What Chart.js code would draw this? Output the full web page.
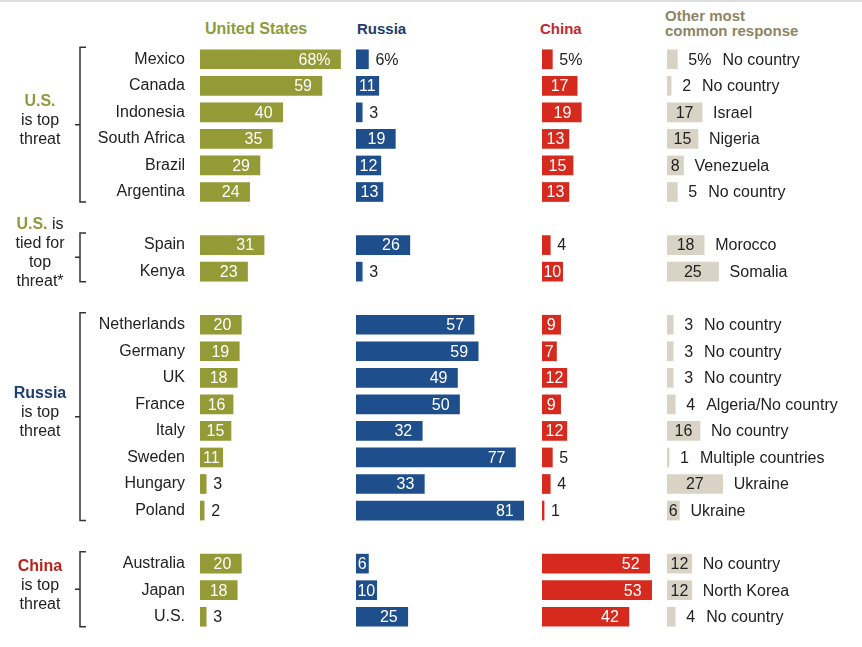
<!DOCTYPE html>
<html>
<head>
<meta charset="utf-8">
<script src="https://cdn.jsdelivr.net/npm/chart.js@4"></script>
<style>
  body { margin:0; background:#fff; width:862px; height:647px; overflow:hidden; position:relative; font-family:'Liberation Sans', Arial, sans-serif; }
  .topline { position:absolute; left:0; top:0; width:862px; height:2px; background:#dedede; }
  canvas { position:absolute; top:0; }
  .head { position:absolute; font-weight:bold; font-size:15px; line-height:15px; white-space:nowrap; }
</style>
</head>
<body>
<div class="topline"></div>
<div class="head" style="left:205px;top:21px;color:#8e9a3b;font-size:16px">United States</div>
<div class="head" style="left:357px;top:21px;color:#1c3b6e">Russia</div>
<div class="head" style="left:540px;top:21px;color:#c1282c">China</div>
<div class="head" style="left:665px;top:8px;color:#8d8566">Other most<br>common response</div>
<canvas id="cUS"></canvas>
<canvas id="cRU"></canvas>
<canvas id="cCN"></canvas>
<canvas id="cOT"></canvas>
<script>
// countries in the order shown, grouped by which country is seen as the top threat
const countries = ["Mexico", "Canada", "Indonesia", "South Africa", "Brazil", "Argentina",
                   "Spain", "Kenya",
                   "Netherlands", "Germany", "UK", "France", "Italy", "Sweden", "Hungary", "Poland",
                   "Australia", "Japan", "U.S."];
const groupSizes = [6, 2, 8, 3];
const groupLead = ["U.S.", "U.S.", "Russia", "China"];
const groupLines = [["", "is top", "threat"], [" is", "tied for", "top", "threat*"], ["", "is top", "threat"], ["", "is top", "threat"]];

// % naming each country as the greatest threat
const usValues     = [68, 59, 40, 35, 29, 24, 31, 23, 20, 19, 18, 16, 15, 11, 3, 2, 20, 18, 3];
const russiaValues = [6, 11, 3, 19, 12, 13, 26, 3, 57, 59, 49, 50, 32, 77, 33, 81, 6, 10, 25];
const chinaValues  = [5, 17, 19, 13, 15, 13, 4, 10, 9, 7, 12, 9, 12, 5, 4, 1, 52, 53, 42];
const otherValues  = [5, 2, 17, 15, 8, 5, 18, 25, 3, 3, 3, 4, 16, 1, 27, 6, 12, 12, 4];
const otherNames   = ["No country", "No country", "Israel", "Nigeria", "Venezuela", "No country",
                      "Morocco", "Somalia",
                      "No country", "No country", "No country", "Algeria/No country", "No country",
                      "Multiple countries", "Ukraine", "Ukraine",
                      "No country", "North Korea", "No country"];

const FONT = "'Liberation Sans', Arial, sans-serif";
const SCALE = 2.065; // pixels per percentage point, same in all columns

// spread the rows into slots with one empty slot between groups
const slots = [];
const groupStart = [];
let k = 0;
groupSizes.forEach((n, gi) => {
  if (gi > 0) slots.push(-1);
  groupStart.push(slots.length);
  for (let i = 0; i < n; i++) slots.push(k++);
});
const slotLabels = slots.map(i => i < 0 ? "" : countries[i]);
const toSlots = arr => slots.map(i => i < 0 ? null : arr[i]);

Chart.defaults.font.family = FONT;

const valueLabels = {
  id: "valueLabels",
  afterDatasetsDraw(chart, args, o) {
    const ctx = chart.ctx;
    const vals = chart.data.datasets[0].data;
    ctx.save();
    ctx.font = "16px " + FONT;
    ctx.textBaseline = "middle";
    chart.getDatasetMeta(0).data.forEach((bar, i) => {
      const v = vals[i];
      if (v == null) return;
      const txt = v + (i === 0 ? "%" : "");
      const w = ctx.measureText(txt).width;
      const bw = bar.x - bar.base;
      let end;
      if (w + 2 <= bw) {
        ctx.fillStyle = o.inColor;
        if (o.center) {
          ctx.textAlign = "center";
          ctx.fillText(txt, (bar.x + bar.base) / 2, bar.y + 1);
        } else {
          ctx.textAlign = "right";
          ctx.fillText(txt, bar.x - Math.min(10, (bw - w) / 2), bar.y + 1);
        }
        end = bar.x;
      } else {
        ctx.fillStyle = "#222";
        ctx.textAlign = "left";
        ctx.fillText(txt, bar.x + (o.center ? 11 : 7), bar.y + 1);
        end = bar.x + (o.center ? 11 : 7) + w;
      }
      if (o.names) {
        ctx.fillStyle = "#222";
        ctx.textAlign = "left";
        ctx.fillText(o.names[i], end + 11, bar.y + 1);
      }
    });
    ctx.restore();
  }
};

// group captions and brackets on the left
const brackets = {
  id: "brackets",
  afterDraw(chart) {
    const ctx = chart.ctx, y = chart.scales.y;
    const leadColors = ["#8e9a3b", "#8e9a3b", "#1d3f74", "#b8241d"];
    ctx.save();
    groupSizes.forEach((n, gi) => {
      const top = y.getPixelForValue(groupStart[gi]) - 12;
      const bot = y.getPixelForValue(groupStart[gi] + n - 1) + 10;
      const mid = (top + bot) / 2;
      ctx.strokeStyle = "#333";
      ctx.lineWidth = 1.5;
      ctx.beginPath();
      ctx.moveTo(86, top); ctx.lineTo(80, top); ctx.lineTo(80, bot); ctx.lineTo(86, bot);
      ctx.moveTo(80, mid); ctx.lineTo(75, mid);
      ctx.stroke();

      const lines = groupLines[gi];
      const lh = 19;
      let ly = mid - 4 - (lines.length - 1) * lh / 2;
      ctx.textBaseline = "middle";
      lines.forEach((ln, li) => {
        if (li === 0) {
          ctx.font = "bold 16px " + FONT;
          const w1 = ctx.measureText(groupLead[gi]).width;
          ctx.font = "16px " + FONT;
          const w2 = ctx.measureText(ln).width;
          const x0 = 40 - (w1 + w2) / 2;
          ctx.textAlign = "left";
          ctx.font = "bold 16px " + FONT;
          ctx.fillStyle = leadColors[gi];
          ctx.fillText(groupLead[gi], x0, ly);
          ctx.font = "16px " + FONT;
          ctx.fillStyle = "#222";
          ctx.fillText(ln, x0 + w1, ly);
        } else {
          ctx.font = "16px " + FONT;
          ctx.fillStyle = "#222";
          ctx.textAlign = "center";
          ctx.fillText(ln, 40, ly);
        }
        ly += lh;
      });
    });
    ctx.restore();
  }
};

function makeChart(id, left, values, color, xMax, opts) {
  const axisW = opts.axis ? 200 : 0;
  const cv = document.getElementById(id);
  cv.width = Math.round(axisW + xMax * SCALE);
  cv.height = 647;
  cv.style.left = left + "px";
  return new Chart(cv, {
    type: "bar",
    data: { labels: slotLabels, datasets: [{ data: toSlots(values), backgroundColor: color, barThickness: 19 }] },
    options: {
      indexAxis: "y",
      responsive: false,
      animation: false,
      layout: { padding: { top: 46, bottom: 17, left: 0, right: 0 } },
      scales: {
        x: { display: false, min: 0, max: xMax },
        y: opts.axis ? {
          grid: { display: false, drawTicks: false },
          border: { display: false },
          ticks: { autoSkip: false, padding: 15, color: "#222", font: { size: 16 } },
          afterFit: s => { s.width = axisW; s.paddingTop = 0; s.paddingBottom = 0; }
        } : { display: false }
      },
      plugins: {
        legend: { display: false },
        tooltip: { enabled: false },
        valueLabels: { inColor: opts.inColor || "#fff", center: opts.center, names: opts.names }
      }
    },
    plugins: opts.axis ? [valueLabels, brackets] : [valueLabels]
  });
}

makeChart("cUS", 0, usValues, "#949a36", 75, { axis: true });
makeChart("cRU", 356, russiaValues, "#1e4e8b", 85, {});
makeChart("cCN", 542, chinaValues, "#d52a1d", 58, {});
makeChart("cOT", 667, otherValues, "#d8d3c4", 94, { inColor: "#222", center: true, names: toSlots(otherNames) });
</script>
</body>
</html>
